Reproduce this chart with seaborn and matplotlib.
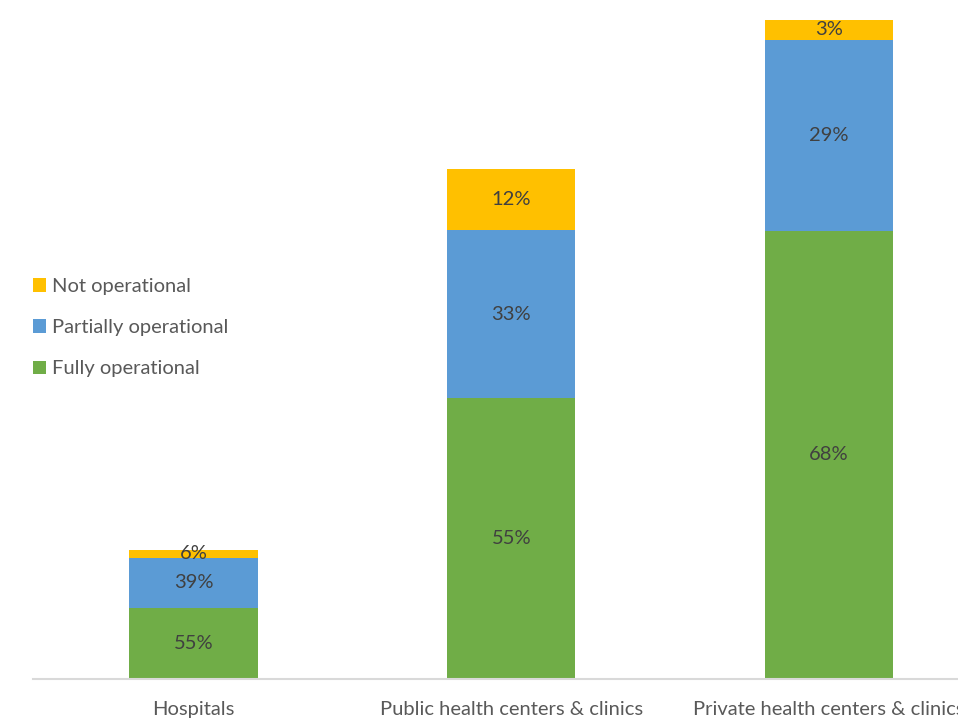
import matplotlib
matplotlib.use("Agg")
import matplotlib.pyplot as plt
from matplotlib.patches import Patch
import seaborn as sns
import pandas as pd
import numpy as np

# Facility categories and number of facilities assessed in each
categories = ["Hospitals", "Public health centers & clinics", "Private health centers & clinics"]
facility_totals = [39, 154, 199]

# Share of facilities by operational status (%)
fully_pct = [55, 55, 68]
partial_pct = [39, 33, 29]
not_pct = [6, 12, 3]

statuses = ["Fully operational", "Partially operational", "Not operational"]
colors = {"Fully operational": "#70AD47",
          "Partially operational": "#5B9BD5",
          "Not operational": "#FFC000"}

totals = np.array(facility_totals, dtype=float)
fully = totals * np.array(fully_pct) / 100
partial = totals * np.array(partial_pct) / 100
notop = totals * np.array(not_pct) / 100

df = pd.DataFrame({
    "category": categories,
    "fully": fully,
    "fully_partial": fully + partial,
    "all": fully + partial + notop,
})

sns.set_theme(style="white")
plt.rcParams["font.family"] = ["Lato", "DejaVu Sans"]

fig = plt.figure(figsize=(9.58, 7.18), dpi=100)
ax = fig.add_axes([33 / 958, 39 / 718, 955 / 958, 679 / 718])

# Stack by overlaying cumulative totals, tallest first
for col, status in [("all", "Not operational"),
                    ("fully_partial", "Partially operational"),
                    ("fully", "Fully operational")]:
    sns.barplot(data=df, x="category", y=col, color=colors[status],
                width=0.403, saturation=1, ax=ax, linewidth=0)

# Segment labels
for i in range(len(categories)):
    segs = [(0, fully[i], fully_pct[i]),
            (fully[i], partial[i], partial_pct[i]),
            (fully[i] + partial[i], notop[i], not_pct[i])]
    for base, h, pct in segs:
        ax.text(i, base + h / 2, f"{pct}%", ha="center", va="center",
                fontsize=14.5, color="#404040")

ax.set_xlim(-0.505, 2.5)
ax.set_ylim(0, 205.0)
ax.set_xlabel("")
ax.set_ylabel("")
ax.set_yticks([])
for s in ["top", "right", "left"]:
    ax.spines[s].set_visible(False)
ax.spines["bottom"].set_color("#D9D9D9")
ax.spines["bottom"].set_linewidth(1.5)
ax.tick_params(axis="x", length=0, pad=16, labelsize=14.5, labelcolor="#595959")

handles = [Patch(facecolor=colors[s], edgecolor="none") for s in reversed(statuses)]
fig.legend(handles, list(reversed(statuses)), loc="upper left",
           bbox_to_anchor=(25 / 958, 1 - 270 / 718), frameon=False,
           fontsize=14.5, labelcolor="#595959", handlelength=0.65, handleheight=0.65,
           handletextpad=0.3, labelspacing=1.2, borderaxespad=0)

fig.savefig("out.png", dpi=100)
